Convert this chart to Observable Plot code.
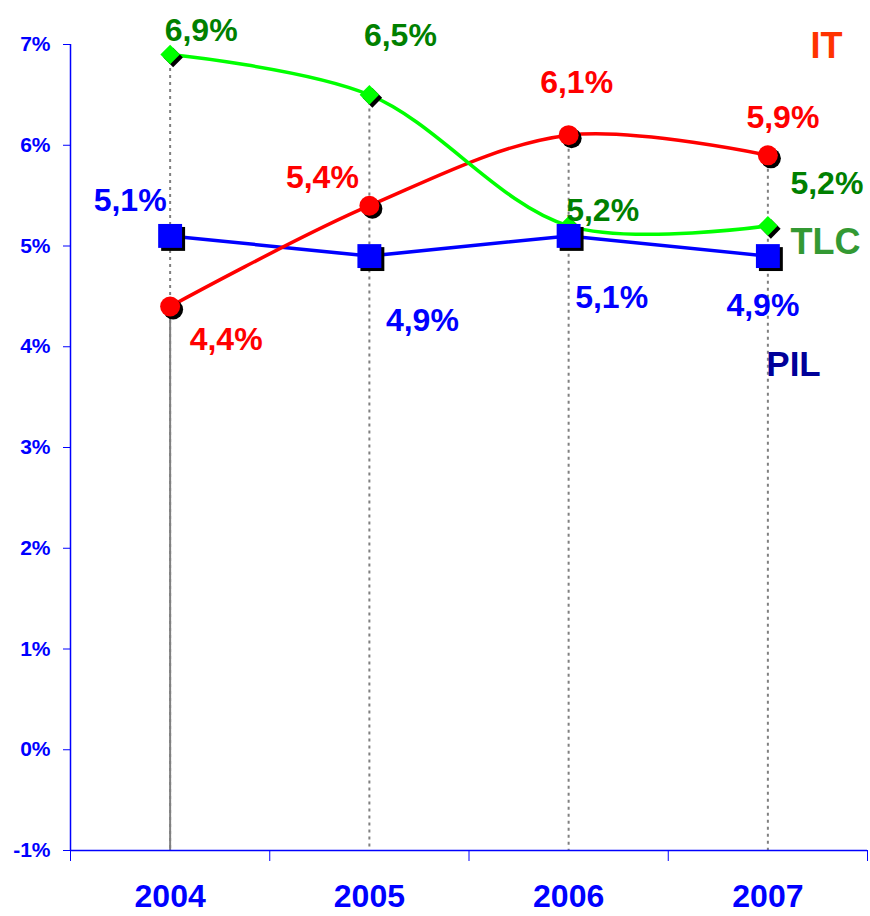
<!DOCTYPE html>
<html>
<head>
<meta charset="utf-8">
<script src="https://cdn.jsdelivr.net/npm/d3@7"></script>
<script src="https://cdn.jsdelivr.net/npm/@observablehq/plot@0.6"></script>
<style>
  html, body { margin: 0; padding: 0; background: #fff; }
  #chart svg { display: block; }
</style>
</head>
<body>
<div id="chart"></div>
<script>
// ---- data ----
const years = [2004, 2005, 2006, 2007];
const tlc = [6.9, 6.5, 5.2, 5.2];
const it = [4.4, 5.4, 6.1, 5.9];
const pil = [5.1, 4.9, 5.1, 4.9];
const yTicks = [-1, 0, 1, 2, 3, 4, 5, 6, 7];
const seriesNames = ["IT", "TLC", "PIL"];
const solidDropYears = [2004];

// ---- layout / style config ----
const FONT = "'Liberation Sans', Arial, Helvetica, sans-serif";
const styleOf = {
  IT:  {line: "#FF0000", label: "#FF0000", name: "#FF3300", curve: "catmull-rom"},
  TLC: {line: "#00FF00", label: "#008000", name: "#339933", curve: "catmull-rom"},
  PIL: {line: "#0000FF", label: "#0000FF", name: "#000099", curve: "linear"}
};
const labelOffset = {
  TLC: [[31, -14], [31, -49], [34, -5], [59, -32]],
  IT:  [[56, 44], [-47, -18], [8, -42], [15, -27]],
  PIL: [[-40, -25], [53, 75], [43, 72], [-5, 60]]
};
const nameOffset = {IT: [-41, 13, 36], TLC: [-42, 209, 36], PIL: [-74, 331, 35]};

const valuesOf = {IT: it, TLC: tlc, PIL: pil};
const rows = (name) => years.map((year, i) => ({year, value: valuesOf[name][i], name, i}));
const fmt = (v) => d3.format(".1f")(v).replace(".", ",") + "%";

const drops = years.map((year, i) => ({year, top: Math.max(tlc[i], it[i], pil[i]), low: Math.min(tlc[i], it[i], pil[i])}));

const boundaries = d3.range(years[0] - 0.5, years[years.length - 1] + 1, 1);

const marks = [];

// drop lines
marks.push(Plot.ruleX(drops, {x: "year", y1: "top", y2: -1, stroke: "#808080", strokeWidth: 2, strokeDasharray: "3,4"}));
marks.push(Plot.ruleX(drops.filter(d => solidDropYears.includes(d.year)), {x: "year", y1: "low", y2: -1, stroke: "#808080", strokeWidth: 2}));

// axes lines
marks.push(Plot.ruleX([boundaries[0]], {y1: -1, y2: 7, stroke: "#0000FF", strokeWidth: 1.5}));
marks.push(Plot.ruleY([-1], {x1: boundaries[0], x2: boundaries[boundaries.length - 1], stroke: "#0000FF", strokeWidth: 1.5}));
marks.push(Plot.axisY({ticks: yTicks, tickFormat: d => d + "%", tickSize: 7, tickPadding: 13, stroke: "#0000FF", fill: "#0000FF", fontSize: 21, fontWeight: "bold", label: null}));
marks.push(Plot.axisX({ticks: boundaries, tickFormat: () => "", tickSize: 11, stroke: "#0000FF", label: null}));
marks.push(Plot.text(years, {x: d => d, frameAnchor: "bottom", lineAnchor: "bottom", dy: 56, text: d => String(d), fill: "#0000FF", fontSize: 32, fontWeight: "bold", textAnchor: "middle"}));

// lines
for (const name of ["PIL", "IT", "TLC"]) {
  marks.push(Plot.line(rows(name), {x: "year", y: "value", stroke: styleOf[name].line, strokeWidth: 3.5, curve: styleOf[name].curve}));
}

// markers with shadows
marks.push(Plot.dot(rows("TLC"), {x: "year", y: "value", symbol: "square", rotate: 45, r: 7.8, fill: "#000", dx: 3, dy: 3}));
marks.push(Plot.dot(rows("TLC"), {x: "year", y: "value", symbol: "square", rotate: 45, r: 7.8, fill: "#00FF00"}));
marks.push(Plot.dot(rows("IT"), {x: "year", y: "value", r: 10, fill: "#000", dx: 3, dy: 3}));
marks.push(Plot.dot(rows("IT"), {x: "year", y: "value", r: 10, fill: "#FF0000"}));
marks.push(Plot.dot(rows("PIL"), {x: "year", y: "value", symbol: "square", r: 13.5, fill: "#000", dx: 3, dy: 3}));
marks.push(Plot.dot(rows("PIL"), {x: "year", y: "value", symbol: "square", r: 13.5, fill: "#0000FF"}));

// value labels
for (const name of seriesNames) {
  for (const d of rows(name)) {
    const [dx, dy] = labelOffset[name][d.i];
    marks.push(Plot.text([d], {x: "year", y: "value", text: d => fmt(d.value), dx, dy, lineAnchor: "bottom", textAnchor: "middle", fill: styleOf[name].label, fontSize: 32, fontWeight: "bold"}));
  }
}

// series names
for (const name of seriesNames) {
  const [dx, dy, fs] = nameOffset[name];
  marks.push(Plot.text([name], {frameAnchor: "top-right", text: d => d, dx, dy, lineAnchor: "bottom", textAnchor: "middle", fill: styleOf[name].name, fontSize: fs, fontWeight: "bold"}));
}

const chart = Plot.plot({
  width: 870,
  height: 916,
  marginLeft: 70,
  marginRight: 3,
  marginTop: 44,
  marginBottom: 66,
  style: {fontFamily: FONT, background: "#fff", overflow: "visible"},
  x: {type: "linear", domain: [boundaries[0], boundaries[boundaries.length - 1]]},
  y: {type: "linear", domain: [-1, 7]},
  marks
});
document.getElementById("chart").appendChild(chart);
</script>
</body>
</html>
